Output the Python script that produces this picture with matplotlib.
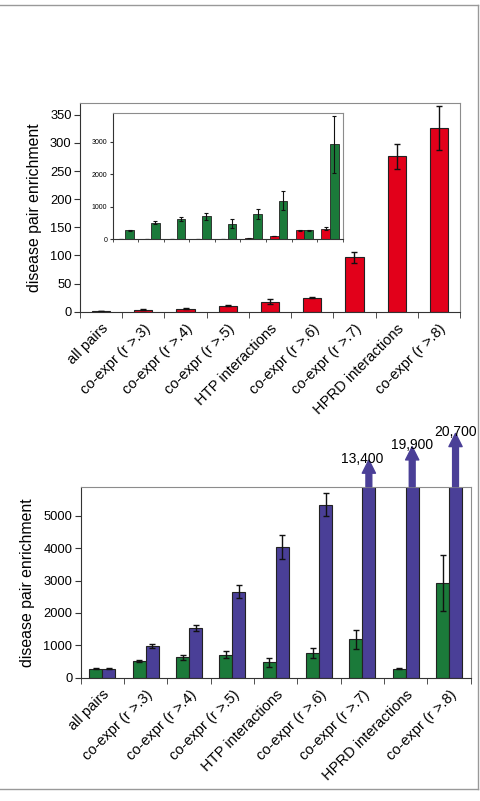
import matplotlib
matplotlib.use("Agg")
import matplotlib.pyplot as plt
import numpy as np
from matplotlib.lines import Line2D

plt.rcParams["font.family"] = ["Liberation Sans", "DejaVu Sans"]

categories = ["all pairs", "co-expr (r >.3)", "co-expr (r >.4)", "co-expr (r >.5)",
              "HTP interactions", "co-expr (r >.6)", "co-expr (r >.7)",
              "HPRD interactions", "co-expr (r >.8)"]
red_vals = [1.5, 3.5, 5.5, 10.5, 18, 25, 97, 276, 326]
red_err = [0.3, 0.5, 1, 0.8, 4, 1.2, 10, 22, 39]
green_vals = [278, 515, 625, 705, 478, 770, 1190, 278, 2920]
green_err = [20, 45, 75, 110, 140, 150, 290, 15, 870]
blue_vals = [280, 980, 1540, 2650, 4030, 5340, 13400, 19900, 20700]
blue_err = [20, 70, 100, 200, 370, 360, np.nan, np.nan, np.nan]

RED, GREEN, BLUE = "#e2001a", "#1b7a3a", "#4a3f97"
EDGE = "#222222"
W, H = 480, 801


def style(ax, fs=9.3, ticklen=4, labels=True):
    n = len(categories)
    ax.set_xlim(-0.5, n - 0.5)
    ax.set_xticks(np.arange(n))
    ax.set_xticks(np.arange(n + 1) - 0.5, minor=True)
    ax.tick_params(axis="x", which="major", length=0, pad=7)
    ax.tick_params(axis="x", which="minor", length=ticklen, direction="out", color="#333")
    ax.tick_params(axis="y", length=ticklen, direction="out", labelsize=fs, color="#333", pad=2)
    if labels:
        ax.set_xticklabels(categories, rotation=45, ha="right", va="top",
                           rotation_mode="anchor", fontsize=10.5)
    else:
        ax.set_xticklabels([])
    for s in ["top", "right"]:
        ax.spines[s].set_color("#8c8c8c")
    for s in ["left", "bottom"]:
        ax.spines[s].set_color("#333333")


def rect(l, t, r, b):
    return [l / W, 1 - b / H, (r - l) / W, (b - t) / H]


fig = plt.figure(figsize=(4.8, 8.01), dpi=100)
x = np.arange(len(categories))
ekw = dict(ecolor="#111", elinewidth=1, capsize=2.5, capthick=1)

# top panel: red bars
ax1 = fig.add_axes(rect(80, 103, 460, 311.7))
ax1.bar(x, red_vals, 0.43, yerr=red_err, color=RED, edgecolor=EDGE, linewidth=0.8,
        error_kw=ekw, zorder=2)
ax1.set_ylim(0, 371)
ax1.set_yticks(np.arange(0, 351, 50))
style(ax1)
ax1.set_ylabel("disease pair enrichment", fontsize=11.4)
ax1.yaxis.set_label_coords(-0.1, 0.5)

# inset: red vs green
axi = fig.add_axes(rect(112.7, 113.3, 342.7, 239.3))
axi.bar(x - 0.17, red_vals, 0.34, yerr=red_err, color=RED, edgecolor=EDGE, linewidth=0.6,
        error_kw=dict(ecolor="#111", elinewidth=0.8, capsize=1.5, capthick=0.8))
axi.bar(x + 0.17, green_vals, 0.34, yerr=green_err, color=GREEN, edgecolor=EDGE, linewidth=0.6,
        error_kw=dict(ecolor="#111", elinewidth=0.8, capsize=1.5, capthick=0.8))
axi.set_ylim(0, 3870)
axi.set_yticks([0, 1000, 2000, 3000])
style(axi, fs=5, ticklen=2, labels=False)

# bottom panel: green vs blue
ax2 = fig.add_axes(rect(80.7, 486.7, 470.7, 677.7))
ax2.bar(x - 0.15, green_vals, 0.3, yerr=green_err, color=GREEN, edgecolor=EDGE,
        linewidth=0.8, error_kw=ekw, zorder=2)
ax2.bar(x + 0.15, blue_vals, 0.3, yerr=blue_err, color=BLUE, edgecolor=EDGE,
        linewidth=0.8, error_kw=ekw, zorder=2)
ax2.set_ylim(0, 5900)
ax2.set_yticks(np.arange(0, 5001, 1000))
style(ax2)
ax2.set_ylabel("disease pair enrichment", fontsize=11.4)
ax2.yaxis.set_label_coords(-0.117, 0.5)

# arrows for bars running off the top
top = ax2.get_ylim()[1]
trans = ax2.get_xaxis_transform()
over = [i for i, v in enumerate(blue_vals) if v > top]
ax_h = 677.7 - 486.7
text_dx = [-4.5, 0, 0]
for k, i in enumerate(over):
    tip = 1 + (26.7 + 13.3 * k) / ax_h
    ax2.annotate("", xy=(i + 0.15, tip), xycoords=trans, xytext=(i + 0.15, 1.0),
                 textcoords=trans, annotation_clip=False,
                 arrowprops=dict(arrowstyle="simple,head_length=0.95,head_width=0.95,tail_width=0.42",
                                 mutation_scale=10, color=BLUE, shrinkA=0, shrinkB=0))
    ax2.annotate(f"{blue_vals[i]:,}", xy=(i + 0.15, tip), xycoords=trans,
                 xytext=(text_dx[k], -2), textcoords="offset points",
                 ha="center", va="baseline", fontsize=10, annotation_clip=False)

# page frame
fig.add_artist(Line2D([0, 478 / W], [1 - 5 / H] * 2, color="#999", lw=1))
fig.add_artist(Line2D([478 / W] * 2, [1 - 5 / H, 1 - 789 / H], color="#999", lw=1))
fig.add_artist(Line2D([0, 478 / W], [1 - 789 / H] * 2, color="#999", lw=1))

fig.savefig("out.png", dpi=100)
